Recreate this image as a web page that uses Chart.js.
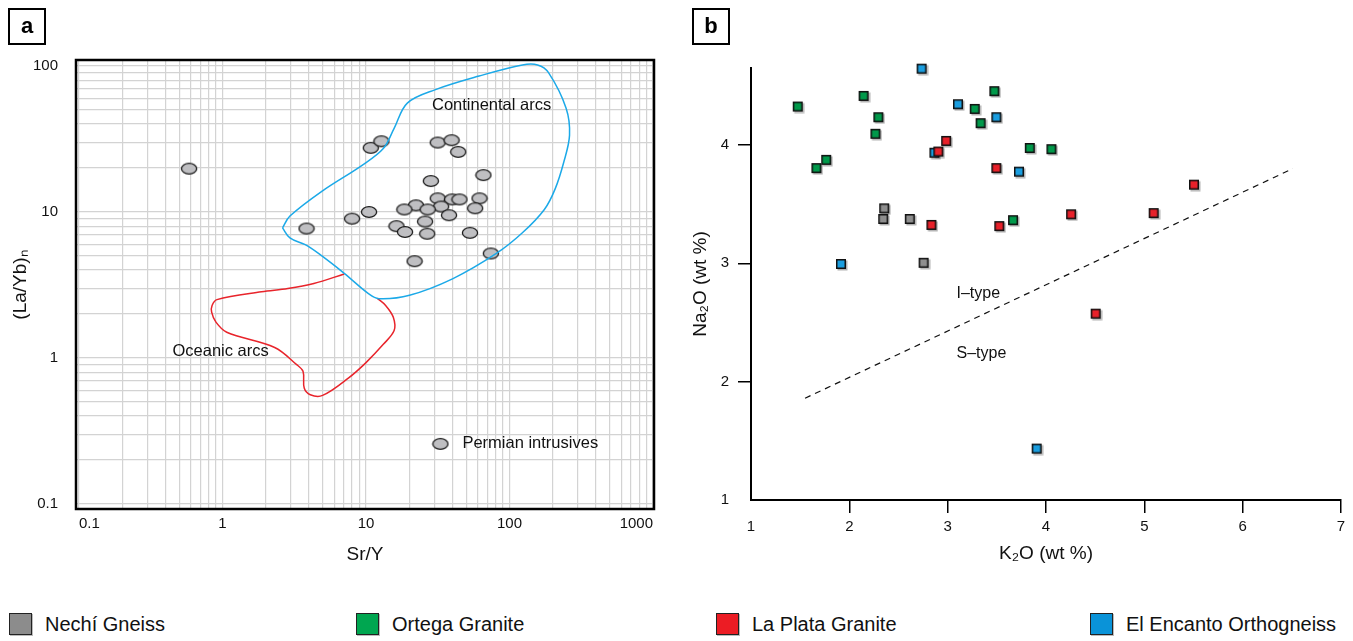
<!DOCTYPE html>
<html>
<head>
<meta charset="utf-8">
<script src="https://cdn.jsdelivr.net/npm/chart.js@4.4.1/dist/chart.umd.min.js"></script>
<style>
  body { margin: 0; background: #fff; font-family: 'Liberation Sans', Arial, sans-serif; }
  #wrap { position: relative; width: 1353px; height: 641px; overflow: hidden; }
  canvas { position: absolute; top: 0; }
  .tag { position: absolute; top: 8px; width: 38px; height: 37px; box-sizing: border-box;
         border: 2.5px solid #000; font-weight: bold; font-size: 22px; text-align: center; line-height: 31px; }
  .sw { position: absolute; top: 613px; width: 23px; height: 22px; box-sizing: border-box;
        border: 1.5px solid #222; box-shadow: 1px 1px 0 #bbb; }
  .lt { position: absolute; top: 612px; font-size: 20px; line-height: 24px; color: #111; white-space: nowrap; }
</style>
</head>
<body>
<div id="wrap">
  <canvas id="chartA" width="680" height="580" style="left:0"></canvas>
  <canvas id="chartB" width="673" height="580" style="left:680px"></canvas>
  <div class="tag" style="left:8px">a</div>
  <div class="tag" style="left:692px">b</div>
  <div id="legend"></div>
</div>
<script>
// ---- panel a: Sr/Y vs (La/Yb)n, log-log ----
const permSrY  = [0.585, 10.8, 12.8, 31.6, 39.5, 43.9, 65.8, 28.3, 31.6, 39.8, 44.8, 61.8, 57.6, 33.4,
                  22.3, 18.5, 26.9, 37.9, 10.5, 8.0, 3.85, 16.3, 18.7, 25.8, 26.7, 53.0, 74.1, 21.8];
const permLaYb = [19.8, 27.5, 30.5, 29.9, 31.0, 25.8, 17.9, 16.3, 12.4, 12.2, 12.2, 12.4, 10.6, 10.9,
                  11.1, 10.4, 10.4, 9.5, 10.0, 9.0, 7.7, 8.0, 7.3, 8.6, 7.1, 7.2, 5.2, 4.6];

// field outlines (closed continental, open oceanic)
const contSrY  = [2.62, 2.95, 4.98, 9.33, 13.2, 15.7, 19.4, 30.5, 61.4, 123, 157, 187, 248, 262, 239,
                  208, 175, 123, 81, 40.4, 20.1, 12.3, 10.4, 7.05, 4.64, 3.77, 2.95, 2.62];
const contLaYb = [7.79, 9.38, 13.97, 20.8, 27.2, 37.4, 55.7, 68.9, 85.3, 101.6, 101.6, 90, 51.4, 33.6, 22,
                  14.4, 10.4, 7.2, 5.2, 3.5, 2.69, 2.55, 2.76, 3.80, 5.22, 5.97, 6.64, 7.79];
const oceSrY   = [7.05, 4.33, 2.85, 1.87, 0.914, 0.846, 0.84, 0.90, 1.07, 2.31, 3.27, 3.64, 3.71, 4.09,
                  4.98, 7.57, 10.0, 13.2, 15.7, 15.5, 13.7, 12.0];
const oceLaYb  = [3.76, 3.24, 2.99, 2.84, 2.51, 2.29, 2.06, 1.76, 1.50, 1.18, 0.904, 0.81, 0.622, 0.56,
                  0.554, 0.731, 0.93, 1.24, 1.54, 1.90, 2.29, 2.56];

const xDecadesA = [0.1, 1, 10, 100, 1000];
const xLabelsA  = ['0.1', '1', '10', '100', '1000'];
const yDecadesA = [0.1, 1, 10, 100];
const yLabelsA  = ['0.1', '1', '10', '100'];

// ---- panel b: K2O vs Na2O ----
const seriesNames = ['Nechí Gneiss', 'Ortega Granite', 'La Plata Granite', 'El Encanto Orthogneiss'];
const nechiK2O  = [2.36, 2.35, 2.62, 2.76];
const nechiNa2O = [3.46, 3.37, 3.37, 3.00];
const ortegaK2O  = [1.48, 2.15, 2.30, 2.27, 1.67, 1.77, 3.48, 3.28, 3.34, 3.84, 4.06, 3.67];
const ortegaNa2O = [4.32, 4.41, 4.23, 4.09, 3.80, 3.87, 4.45, 4.30, 4.18, 3.97, 3.96, 3.36];
const plataK2O  = [2.99, 2.91, 3.50, 2.84, 3.53, 4.26, 5.10, 5.51, 4.51];
const plataNa2O = [4.03, 3.94, 3.80, 3.32, 3.31, 3.41, 3.42, 3.66, 2.57];
const encantoK2O  = [2.74, 3.11, 3.50, 2.87, 3.73, 1.92, 3.91];
const encantoNa2O = [4.64, 4.34, 4.23, 3.93, 3.77, 2.99, 1.43];
const divideK2O  = [1.55, 6.51];
const divideNa2O = [1.86, 3.80];
const xTicksB = [1, 2, 3, 4, 5, 6, 7];
const yTicksB = [1, 2, 3, 4];

const markerFill = ['#8e8e8e', '#00994a', '#e8212a', '#1a9ee0'];
const swatchFill = ['#8c8c8c', '#00a650', '#ec1c24', '#0a93d8'];

Chart.defaults.font.family = "'Liberation Sans', Arial, sans-serif";
Chart.defaults.color = '#111';

const zip = (xs, ys) => xs.map((v, i) => ({ x: v, y: ys[i] }));

function makeEllipse() {
  const c = document.createElement('canvas');
  c.width = 18; c.height = 14;
  const g = c.getContext('2d');
  g.beginPath();
  g.ellipse(9, 7, 7.6, 5.4, 0, 0, Math.PI * 2);
  g.fillStyle = '#bfbfc2';
  g.fill();
  g.lineWidth = 1.3;
  g.strokeStyle = '#1a1a1a';
  g.stroke();
  return c;
}
function makeSquare(fill) {
  const c = document.createElement('canvas');
  c.width = 13; c.height = 13;
  const g = c.getContext('2d');
  g.fillStyle = 'rgba(0,0,0,0.3)';
  g.fillRect(2.5, 2.5, 10, 10);
  g.fillStyle = fill;
  g.fillRect(1, 1, 10, 10);
  g.strokeStyle = '#111';
  g.lineWidth = 1.5;
  g.strokeRect(1.75, 1.75, 8.5, 8.5);
  return c;
}
const ellipse = makeEllipse();

function logTicks(decades) {
  const out = [];
  decades.forEach(d => { for (let m = 1; m <= 9; m++) out.push(m * d); });
  return out;
}

// text notes + frame for panel a
const notesA = {
  id: 'notesA',
  afterDraw(chart) {
    const { ctx, chartArea: a, scales: { x, y } } = chart;
    ctx.save();
    ctx.strokeStyle = '#000';
    ctx.lineWidth = 2.5;
    ctx.strokeRect(a.left, a.top, a.width, a.height);
    ctx.fillStyle = '#111';
    ctx.font = "16.5px 'Liberation Sans', Arial, sans-serif";
    ctx.textBaseline = 'middle';
    ctx.textAlign = 'center';
    ctx.fillText('Continental arcs', x.getPixelForValue(75), y.getPixelForValue(54));
    ctx.fillText('Oceanic arcs', x.getPixelForValue(0.97), y.getPixelForValue(1.1));
    const px = x.getPixelForValue(33), py = y.getPixelForValue(0.258);
    ctx.drawImage(ellipse, px - ellipse.width / 2, py - ellipse.height / 2);
    ctx.textAlign = 'left';
    ctx.fillText('Permian intrusives', px + 22, py);
    ctx.restore();
  }
};

new Chart(document.getElementById('chartA'), {
  type: 'scatter',
  data: {
    datasets: [
      { data: zip(contSrY, contLaYb), showLine: true, borderColor: '#1ba9e8', borderWidth: 1.5,
        tension: 0.35, pointRadius: 0, fill: false },
      { data: zip(oceSrY, oceLaYb), showLine: true, borderColor: '#e8242b', borderWidth: 1.5,
        tension: 0.35, pointRadius: 0, fill: false },
      { data: zip(permSrY, permLaYb), pointStyle: ellipse, pointRadius: 6, showLine: false }
    ]
  },
  options: {
    responsive: false, animation: false, devicePixelRatio: 1,
    layout: { padding: { top: 60, right: 26, left: 0, bottom: 0 } },
    plugins: { legend: { display: false }, tooltip: { enabled: false } },
    scales: {
      x: {
        type: 'logarithmic', min: 0.0953, max: 1016,
        afterFit: s => { s.height = 71; },
        afterBuildTicks: s => { s.ticks = logTicks(xDecadesA).filter(v => v <= 1000).map(v => ({ value: v })); },
        ticks: {
          autoSkip: false, maxRotation: 0, align: 'inner', padding: 6, font: { size: 15 },
          callback: v => { const i = xDecadesA.indexOf(v); return i >= 0 ? xLabelsA[i] : ''; }
        },
        grid: { color: '#d3d3d3', lineWidth: 1.2, drawTicks: false },
        border: { display: false },
        title: { display: true, text: 'Sr/Y', font: { size: 19 }, padding: { top: 0, bottom: 14 } }
      },
      y: {
        type: 'logarithmic', min: 0.0924, max: 109.9,
        afterFit: s => { s.width = 76; },
        afterBuildTicks: s => { s.ticks = logTicks(yDecadesA).filter(v => v <= 100).map(v => ({ value: v })); },
        ticks: {
          autoSkip: false, padding: 18, font: { size: 15 },
          callback: v => { const i = yDecadesA.indexOf(v); return i >= 0 ? yLabelsA[i] : ''; }
        },
        grid: { color: '#d3d3d3', lineWidth: 1.2, drawTicks: false },
        border: { display: false },
        title: { display: true, text: '(La/Yb)ₙ', font: { size: 19 }, padding: { top: 9, bottom: 0 } }
      }
    }
  },
  plugins: [notesA]
});

// text notes for panel b
const notesB = {
  id: 'notesB',
  afterDatasetsDraw(chart) {
    const { ctx, scales: { x, y } } = chart;
    ctx.save();
    ctx.fillStyle = '#111';
    ctx.font = "16px 'Liberation Sans', Arial, sans-serif";
    ctx.textBaseline = 'middle';
    ctx.textAlign = 'left';
    ctx.fillText('I–type', x.getPixelForValue(3.09), y.getPixelForValue(2.74));
    ctx.fillText('S–type', x.getPixelForValue(3.09), y.getPixelForValue(2.24));
    ctx.restore();
  }
};

const groupsB = [
  [nechiK2O, nechiNa2O], [ortegaK2O, ortegaNa2O], [plataK2O, plataNa2O], [encantoK2O, encantoNa2O]
];
const tickColor = c => (c.tick && c.tick.value === 1) ? 'rgba(0,0,0,0)' : '#000';

new Chart(document.getElementById('chartB'), {
  type: 'scatter',
  data: {
    datasets: [
      { data: zip(divideK2O, divideNa2O), showLine: true, borderColor: '#111', borderWidth: 1.2,
        borderDash: [6, 5], pointRadius: 0, fill: false },
      ...groupsB.map((g, i) => ({
        label: seriesNames[i], data: zip(g[0], g[1]), pointStyle: makeSquare(markerFill[i]),
        pointRadius: 6, clip: false
      }))
    ]
  },
  options: {
    responsive: false, animation: false, devicePixelRatio: 1,
    layout: { padding: { top: 68, right: 12, left: 0, bottom: 0 } },
    plugins: { legend: { display: false }, tooltip: { enabled: false } },
    scales: {
      x: {
        type: 'linear', min: 1, max: 7,
        afterFit: s => { s.height = 80; },
        afterBuildTicks: s => { s.ticks = xTicksB.map(v => ({ value: v })); },
        ticks: { padding: 5, font: { size: 15 }, maxRotation: 0 },
        grid: { drawOnChartArea: false, drawTicks: true, tickLength: 13, color: tickColor, lineWidth: 1.5 },
        border: { color: '#000', width: 2 },
        title: { display: true, text: 'K₂O (wt %)', font: { size: 19 }, padding: { top: 0, bottom: 15 } }
      },
      y: {
        type: 'linear', min: 1, max: 4.65,
        afterFit: s => { s.width = 71; },
        afterBuildTicks: s => { s.ticks = yTicksB.map(v => ({ value: v })); },
        ticks: { padding: 9, font: { size: 15 } },
        grid: { drawOnChartArea: false, drawTicks: true, tickLength: 13, color: tickColor, lineWidth: 1.5 },
        border: { color: '#000', width: 2 },
        title: { display: true, text: 'Na₂O (wt %)', font: { size: 19 }, padding: { top: 9, bottom: 0 } }
      }
    }
  },
  plugins: [notesB]
});

// shared legend along the bottom
const legendLeft = [9, 356, 716, 1090];
const legend = document.getElementById('legend');
seriesNames.forEach((name, i) => {
  const sw = document.createElement('div');
  sw.className = 'sw';
  sw.style.left = legendLeft[i] + 'px';
  sw.style.background = swatchFill[i];
  const t = document.createElement('div');
  t.className = 'lt';
  t.style.left = (legendLeft[i] + 36) + 'px';
  t.textContent = name;
  legend.appendChild(sw);
  legend.appendChild(t);
});
</script>
</body>
</html>
